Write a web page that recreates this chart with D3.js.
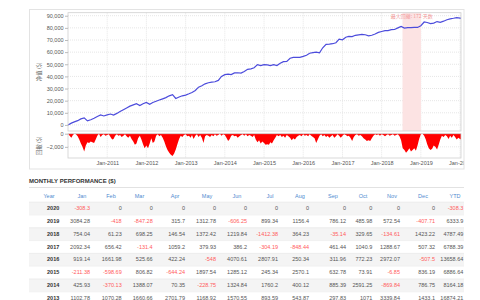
<!DOCTYPE html>
<html>
<head>
<meta charset="utf-8">
<script src="https://cdn.jsdelivr.net/npm/d3@7"></script>
<style>
  body { margin: 0; background: #fff; }
  svg { display: block; font-family: "Liberation Sans", Arial, sans-serif; }
</style>
</head>
<body>
<svg id="chart" width="480" height="300"></svg>
<script>
// equity ($) at the start of each month, Jan-2010 .. Jan-2020, then the last day
const equity = [
  0,
  1500, 2500, 3500, 5000, 5800, 3300, 4300, 5500, 7000, 8200, 7400, 8300,
  9000, 8200, 9500, 11000, 12500, 14000, 15500, 16500, 17500, 16000, 17500, 18500,
  17000, 18500, 19500, 20500, 21500, 22500, 24000, 25000, 21800, 23000, 24000, 24600,
  25703, 26773, 28434, 31136, 32305, 33875, 34769, 35313, 35611, 36682, 40021, 41474,
  41900, 41530, 42918, 42988, 42759, 44084, 45844, 46244, 47130, 49721, 48851, 49638,
  49427, 48828, 49635, 48991, 50888, 52173, 52419, 54989, 55622, 55696, 55689, 56525,
  57444, 59106, 59632, 60054, 59506, 63577, 66385, 66635, 66947, 67719, 70691, 70184,
  72276, 72933, 72801, 73860, 74240, 74627, 74322, 73474, 73935, 74976, 76265, 76972,
  77726, 77787, 78485, 78632, 80004, 81224, 79812, 80176, 80141, 80471, 80336, 81759,
  84843, 84425, 83578, 83894, 85207, 84600, 85500, 86656, 87442, 87928, 88501, 88093,
  87785
];

// drawdown ($) on the 1st and 16th of each month, Jan-2010 .. Jan-2020
const drawdown = [
  0, -300, -600, -200, 0, -100, -400, -900, -1500, -2000, -2700, -1800,
  -1300, -1400, -1200, -1300, -1400, -900, -300, 0, -500, -200, -100, -300,
  -200, -100, -500, -900, -800, -300, -100, -300, -200, -500, -300, -100,
  -400, -600, -300, -800, -1200, -1700, -1500, -700, -300, -900, -1600, -2200,
  -1800, -2200, -1500, -700, -1400, -1200, -300, -100, -400, -200, -600, -1200,
  -1900, -2500, -2900, -3200, -3400, -3000, -2400, -1600, -800, -300, -500, -200,
  -100, -400, -300, -600, -200, -800, -300, -100, -500, -200, -600, -1400,
  -400, -200, -300, -500, -200, -400, -100, -300, -200, 0, -300, -100,
  -200, -600, -1100, -800, -300, -200, -400, -300, -600, -400, -200, -100,
  -300, -100, -400, -200, -300, -500, -200, -900, -1300, -1000, -1500, -1200,
  -1400, -1700, -1600, -1700, -1300, -1500, -1000, -600, -200, -400, -200, -500,
  -300, -600, -200, -400, -600, -1000, -700, -900, -500, -300, -200, -400,
  -100, -300, -200, -400, -100, -300, -500, -700, -1400, -900, -300, -100,
  -400, -200, -500, -300, -600, -400, -200, -600, -400, -100, -300, -600,
  -300, -100, -200, -400, -300, -600, -1100, -500, -200, -100, -300, -200,
  -400, -700, -900, -1100, -1000, -1100, -700, -300, -100, -200, -100, -300,
  -100, -200, -400, -200, -100, -300, -200, -100, -300, -200, -100, -400,
  -1000, -2200, -2500, -2900, -2600, -2200, -2700, -2500, -2200, -2600, -1800, -800,
  -100, 0, -300, -900, -1600, -2200, -2500, -2300, -1800, -2000, -2400, -1700,
  -900, -300, -500, -200, -400, -800, -300, -600, -200, -500, -900, -600,
  -800, -900
];

const maxDD = { start: "2018-07-14", end: "2019-01-02", label: "最大回撤: 172 天数" };

const equityTicks = [0, 10000, 20000, 30000, 40000, 50000, 60000, 70000, 80000, 90000];
const ddTicks = [0, -2000];

const months = ["Jan", "Feb", "Mar", "Apr", "May", "Jun", "Jul", "Aug", "Sep", "Oct", "Nov", "Dec"];
const years = [2020, 2019, 2018, 2017, 2016, 2015, 2014, 2013];
const monthly = [
  [-308.3, 0, 0, 0, 0, 0, 0, 0, 0, 0, 0, 0],
  [3084.28, -418, -847.28, 315.7, 1312.78, -606.25, 899.34, 1156.4, 786.12, 485.98, 572.54, -407.71],
  [754.04, 61.23, 698.25, 146.54, 1372.42, 1219.84, -1412.38, 364.23, -35.14, 329.65, -134.61, 1423.22],
  [2092.34, 656.42, -131.4, 1059.2, 379.93, 386.2, -304.19, -848.44, 461.44, 1040.9, 1288.67, 507.32],
  [919.14, 1661.98, 525.66, 422.24, -548, 4070.61, 2807.91, 250.34, 311.96, 772.23, 2972.07, -507.5],
  [-211.38, -598.69, 806.82, -644.24, 1897.54, 1285.12, 245.34, 2570.1, 632.78, 73.91, -6.85, 836.19],
  [425.93, -370.13, 1388.07, 70.35, -228.75, 1324.84, 1760.2, 400.12, 885.39, 2591.25, -869.84, 786.75],
  [1102.78, 1070.28, 1660.66, 2701.79, 1168.92, 1570.55, 893.59, 543.87, 297.83, 1071, 3339.84, 1433.1]
];
const ytd = [-308.3, 6333.9, 4787.49, 6788.39, 13658.64, 6886.64, 8164.18, 16874.21];

// ---- layout
const font = 5.5;
const left = 68, right = 461;
const top1 = 12.7, bot1 = 131;
const top2 = 133.7, bot2 = 158;

const svg = d3.select("#chart");

const t0 = new Date(2010, 0, 1), tEnd = new Date(2020, 0, 10);
const eqDates = d3.timeMonth.range(t0, new Date(2020, 0, 2)).concat([tEnd]);
const eqData = equity.map((v, i) => ({ date: eqDates[i], v }));
const ddDates = [];
d3.timeMonth.range(t0, new Date(2020, 0, 2)).forEach(d => {
  ddDates.push(d, new Date(d.getFullYear(), d.getMonth(), 16));
});
const ddData = drawdown.map((v, i) => ({ date: i < ddDates.length - 1 ? ddDates[i] : tEnd, v }));

const x = d3.scaleTime().domain([t0, tEnd]).range([left, right]);
const y = d3.scaleLinear().domain([-5000, 92500]).range([bot1, top1]);
const yd = d3.scaleLinear().domain([-3700, 0]).range([bot2, top2]);

// chart box
svg.append("rect")
  .attr("x", 29.5).attr("y", 9.5).attr("width", 434.5).attr("height", 159.5)
  .attr("fill", "#fff").attr("stroke", "#e3e3e3");

svg.append("clipPath").attr("id", "box")
  .append("rect").attr("x", 30).attr("y", 10).attr("width", 433.5).attr("height", 158.5);

// grids
const yearTicks = d3.timeYear.range(new Date(2011, 0, 1), new Date(2020, 0, 2));
const grid = svg.append("g").attr("stroke", "#e6e6e6").attr("stroke-dasharray", "1,1");
grid.selectAll(".gy").data(equityTicks).join("line")
  .attr("x1", left).attr("x2", right).attr("y1", d => y(d)).attr("y2", d => y(d));
grid.selectAll(".gd").data(ddTicks.slice(1)).join("line")
  .attr("x1", left).attr("x2", right).attr("y1", d => yd(d)).attr("y2", d => yd(d));
grid.selectAll(".gx1").data(yearTicks).join("line")
  .attr("x1", d => x(d)).attr("x2", d => x(d)).attr("y1", top1).attr("y2", bot1);
grid.selectAll(".gx2").data(yearTicks).join("line")
  .attr("x1", d => x(d)).attr("x2", d => x(d)).attr("y1", top2).attr("y2", bot2);

// max drawdown band
svg.append("rect")
  .attr("x", x(new Date(maxDD.start))).attr("y", top1)
  .attr("width", x(new Date(maxDD.end)) - x(new Date(maxDD.start)))
  .attr("height", bot1 - top1)
  .attr("fill", "#fce3e3");
svg.append("text")
  .attr("x", (x(new Date(maxDD.start)) + x(new Date(maxDD.end))) / 2)
  .attr("y", 17.8)
  .attr("text-anchor", "middle")
  .attr("font-size", 5)
  .attr("font-family", "Noto Sans CJK SC")
  .attr("fill", "#f29a9a")
  .text(maxDD.label);

// equity line
svg.append("path")
  .datum(eqData)
  .attr("fill", "none")
  .attr("stroke", "#4c4cdc")
  .attr("stroke-width", 1.2)
  .attr("d", d3.line().x(d => x(d.date)).y(d => y(d.v)));

// drawdown area
svg.append("path")
  .datum(ddData)
  .attr("fill", "#ff0000")
  .attr("d", d3.area().x(d => x(d.date)).y0(yd(0)).y1(d => yd(d.v)));

// frames
svg.append("rect").attr("x", left).attr("y", top1).attr("width", right - left).attr("height", bot1 - top1)
  .attr("fill", "none").attr("stroke", "#cfcfcf").attr("stroke-width", 0.8);
svg.append("rect").attr("x", left).attr("y", top2).attr("width", right - left).attr("height", bot2 - top2)
  .attr("fill", "none").attr("stroke", "#cfcfcf").attr("stroke-width", 0.8);

// axes
function styleAxis(g) {
  g.select(".domain").remove();
  g.selectAll(".tick line").attr("stroke", "#bbb");
  g.selectAll("text").attr("fill", "#555").attr("font-size", font)
    .attr("font-family", "Liberation Sans, Arial, sans-serif");
}
svg.append("g").attr("transform", `translate(${left},0)`)
  .call(d3.axisLeft(y).tickValues(equityTicks).tickFormat(d3.format(",")).tickSize(3).tickPadding(1.5))
  .call(styleAxis);
svg.append("g").attr("transform", `translate(${left},0)`)
  .call(d3.axisLeft(yd).tickValues(ddTicks).tickFormat(d3.format(",")).tickSize(3).tickPadding(1.5))
  .call(styleAxis);
svg.append("g").attr("clip-path", "url(#box)")
  .append("g").attr("transform", `translate(0,${bot2})`)
  .call(d3.axisBottom(x).tickValues(yearTicks).tickFormat(d3.timeFormat("%b-%Y")).tickSize(0).tickPadding(3.5))
  .call(styleAxis);

// axis titles
svg.append("text")
  .attr("transform", `translate(41,${(top1 + bot1) / 2}) rotate(-90)`)
  .attr("text-anchor", "middle").attr("font-size", 5.5).attr("fill", "#666")
  .attr("font-family", "Noto Sans CJK SC")
  .text("净值 ($)");
svg.append("text")
  .attr("transform", `translate(41,${(top2 + bot2) / 2}) rotate(-90)`)
  .attr("text-anchor", "middle").attr("font-size", 5.5).attr("fill", "#666")
  .attr("font-family", "Noto Sans CJK SC")
  .text("回撤 ($)");

// ---- monthly performance table
svg.append("text")
  .attr("x", 29).attr("y", 183.2)
  .attr("font-size", 6).attr("font-weight", "bold").attr("fill", "#333")
  .text("MONTHLY PERFORMANCE ($)");
svg.append("line").attr("x1", 29).attr("x2", 464).attr("y1", 187.5).attr("y2", 187.5)
  .attr("stroke", "#e2e2e2").attr("stroke-width", 1.2);

const headCx = [49, 82, 111, 139.5, 175, 207, 237, 270, 300, 333, 363, 392, 423, 455];
const valRx = [59.3, 90, 121.7, 152.7, 185, 216, 247, 278, 309, 346, 372.3, 400, 435, 463.3];
const headers = ["Year"].concat(months, ["YTD"]);
const headY = 195.7, row0 = 208.3, rowH = 12.8;

svg.append("g").selectAll("text").data(headers).join("text")
  .attr("x", (d, i) => headCx[i]).attr("y", headY + font * 0.35)
  .attr("text-anchor", "middle").attr("font-size", font).attr("fill", "#4f8bd0")
  .text(d => d);

const rows = years.map((yr, i) => ({ yr, vals: monthly[i].concat([ytd[i]]), i }));
const rowG = svg.append("g").selectAll("g").data(rows).join("g")
  .attr("transform", d => `translate(0,${row0 + d.i * rowH})`);
rowG.append("rect")
  .attr("x", 29).attr("y", -rowH / 2).attr("width", 435).attr("height", rowH)
  .attr("fill", d => d.i % 2 === 0 ? "#f4f4f4" : "#fff");
rowG.append("line")
  .attr("x1", 29).attr("x2", 464).attr("y1", -rowH / 2 + 0.25).attr("y2", -rowH / 2 + 0.25)
  .attr("stroke", "#e4e4e4").attr("stroke-width", 0.5);
rowG.append("text")
  .attr("x", valRx[0]).attr("y", font * 0.35)
  .attr("text-anchor", "end").attr("font-size", font).attr("font-weight", "bold").attr("fill", "#333")
  .text(d => d.yr);
rowG.selectAll(".v").data(d => d.vals).join("text")
  .attr("x", (d, j) => valRx[j + 1]).attr("y", font * 0.35)
  .attr("text-anchor", "end").attr("font-size", font)
  .attr("fill", d => d < 0 ? "#ff5b5b" : "#555")
  .text(d => d);
</script>
</body>
</html>
